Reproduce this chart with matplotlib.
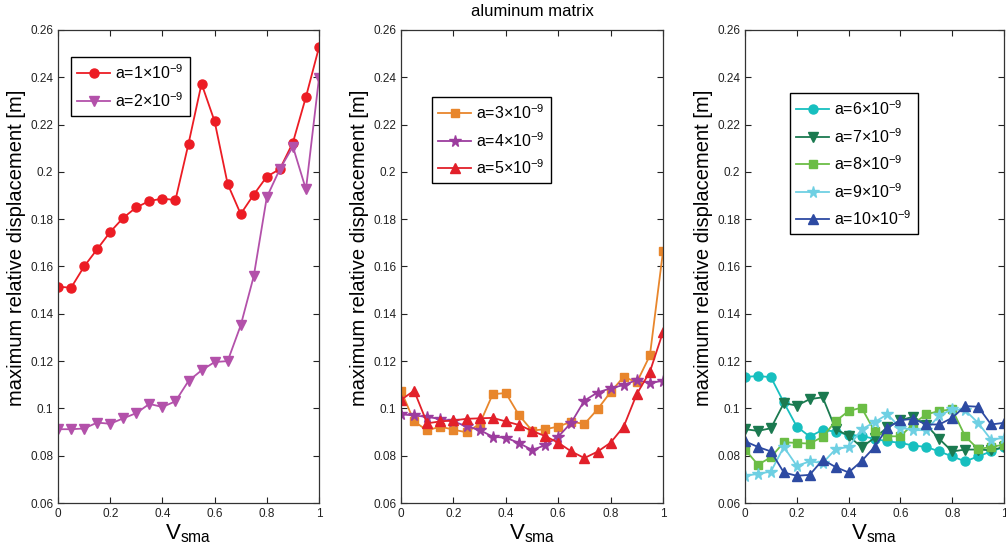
import numpy as np
import matplotlib
matplotlib.use("Agg")
import matplotlib.pyplot as plt
from matplotlib.ticker import FuncFormatter

plt.rcParams['font.family'] = ['Liberation Sans', 'DejaVu Sans']
plt.rcParams['mathtext.fontset'] = 'custom'
plt.rcParams['mathtext.rm'] = 'Liberation Sans'

v_sma = np.round(np.arange(0, 1.0001, 0.05), 2)

# panel 1
a1 = [0.1515, 0.151, 0.160, 0.1673, 0.1746, 0.1806, 0.185, 0.1877, 0.1887, 0.1881,
      0.2119, 0.2373, 0.2214, 0.1949, 0.1822, 0.1904, 0.198, 0.2012, 0.2124, 0.2317, 0.2527]
a2 = [0.0912, 0.0912, 0.0915, 0.094, 0.0935, 0.0958, 0.098, 0.1019, 0.1006, 0.103,
      0.1116, 0.1161, 0.1196, 0.120, 0.1351, 0.1559, 0.1893, 0.2012, 0.2107, 0.1926, 0.2397]

# panel 2
a3 = [0.1075, 0.0945, 0.0907, 0.0923, 0.091, 0.0899, 0.0934, 0.106, 0.1065, 0.0972,
      0.0906, 0.0912, 0.0923, 0.0944, 0.0934, 0.0996, 0.1069, 0.1134, 0.111, 0.1224, 0.1664]
a4 = [0.0975, 0.097, 0.0964, 0.0955, 0.0945, 0.0924, 0.0909, 0.088, 0.0876, 0.0854,
      0.0824, 0.0844, 0.088, 0.094, 0.1033, 0.1067, 0.1085, 0.1099, 0.112, 0.1107, 0.1117]
a5 = [0.1036, 0.1075, 0.0937, 0.0945, 0.0949, 0.0956, 0.0958, 0.096, 0.0945, 0.093,
      0.0905, 0.0883, 0.0855, 0.0818, 0.079, 0.0817, 0.0855, 0.0923, 0.1061, 0.1155, 0.1323]

# panel 3
a6 = [0.1133, 0.1137, 0.1132, 0.1025, 0.0923, 0.0881, 0.0909, 0.0902, 0.0888, 0.0884,
      0.0871, 0.0861, 0.0854, 0.0843, 0.0837, 0.0818, 0.0797, 0.0776, 0.0797, 0.0818, 0.0837]
a7 = [0.0912, 0.0905, 0.0916, 0.1022, 0.1012, 0.1039, 0.1047, 0.0912, 0.0884, 0.0836,
      0.0875, 0.092, 0.095, 0.0965, 0.093, 0.0871, 0.0818, 0.0826, 0.0826, 0.0823, 0.0837]
a8 = [0.0826, 0.0762, 0.0793, 0.0857, 0.0854, 0.0851, 0.088, 0.0946, 0.0989, 0.1003,
      0.0904, 0.0882, 0.0882, 0.0935, 0.0975, 0.0989, 0.0996, 0.0882, 0.0828, 0.0837, 0.0847]
a9 = [0.0715, 0.0723, 0.0733, 0.0837, 0.0757, 0.0776, 0.0769, 0.0828, 0.0837, 0.0911,
      0.0942, 0.0975, 0.0918, 0.0908, 0.0908, 0.097, 0.0996, 0.0992, 0.0939, 0.0868, 0.0875]
a10 = [0.0861, 0.0837, 0.0818, 0.0729, 0.0715, 0.0719, 0.0783, 0.0752, 0.0729, 0.0777,
       0.0837, 0.0918, 0.095, 0.0956, 0.0932, 0.0932, 0.096, 0.101, 0.1007, 0.0932, 0.0939]

panels = [
    [(a1, 'a=1', '#ec1c24', 'o', 6.5), (a2, 'a=2', '#b351aa', 'v', 7.5)],
    [(a3, 'a=3', '#e8862c', 's', 5.5), (a4, 'a=4', '#9c3d9e', '*', 8.5), (a5, 'a=5', '#e2202a', '^', 7.5)],
    [(a6, 'a=6', '#17bfbf', 'o', 6.5), (a7, 'a=7', '#1b7a50', 'v', 7.5), (a8, 'a=8', '#6bbd45', 's', 5.5),
     (a9, 'a=9', '#6fd0e3', '*', 8.5), (a10, 'a=10', '#2d4aa2', '^', 7.5)],
]

W, H = 1006, 550
fig = plt.figure(figsize=(W / 100, H / 100), dpi=100)

ax_px = [(58, 319), (401, 663), (745, 1004)]
top, bot = 30, 503
leg_px = [(71, 57), (432, 97), (790, 93)]

fmt = FuncFormatter(lambda v, p: ('%g' % round(v, 2)))

for i, series in enumerate(panels):
    l, r = ax_px[i]
    ax = fig.add_axes([l / W, (H - bot) / H, (r - l) / W, (bot - top) / H])
    for vals, lab, col, mk, ms in series:
        ax.plot(v_sma, vals, color=col, marker=mk, markersize=ms, linewidth=1.3,
                markeredgecolor=col, label=lab + r'$\times$10$^{-9}$')
    ax.set_xlim(0, 1)
    ax.set_ylim(0.06, 0.26)
    ax.set_xticks(np.arange(0, 1.01, 0.2))
    ax.set_yticks(np.arange(0.06, 0.2601, 0.02))
    ax.xaxis.set_major_formatter(fmt)
    ax.yaxis.set_major_formatter(fmt)
    ax.tick_params(direction='in', top=True, right=True, length=4, labelsize=8.5,
                   colors='#222222', width=0.8)
    for s in ax.spines.values():
        s.set_color('#333333')
        s.set_linewidth(0.9)
    ax.set_ylabel('maximum relative displacement [m]', fontsize=14.5)
    ax.yaxis.set_label_coords(-32 / (r - l), (bot - 248) / (bot - top))
    ax.set_xlabel(r'V$_{\mathregular{sma}}$', fontsize=16, labelpad=2)
    lx, ly = leg_px[i]
    lg = ax.legend(loc='upper left', bbox_to_anchor=((lx - l) / (r - l), (bot - ly) / (bot - top)),
                   borderaxespad=0, fontsize=11.5, frameon=True, fancybox=False,
                   edgecolor='black', framealpha=1, handlelength=2.05, labelspacing=0.55,
                   borderpad=0.4, handletextpad=0.3)
    lg.get_frame().set_linewidth(1.0)
    if i == 1:
        ax.set_title('aluminum matrix', fontsize=12, pad=10)

fig.savefig('out.png', dpi=100)
